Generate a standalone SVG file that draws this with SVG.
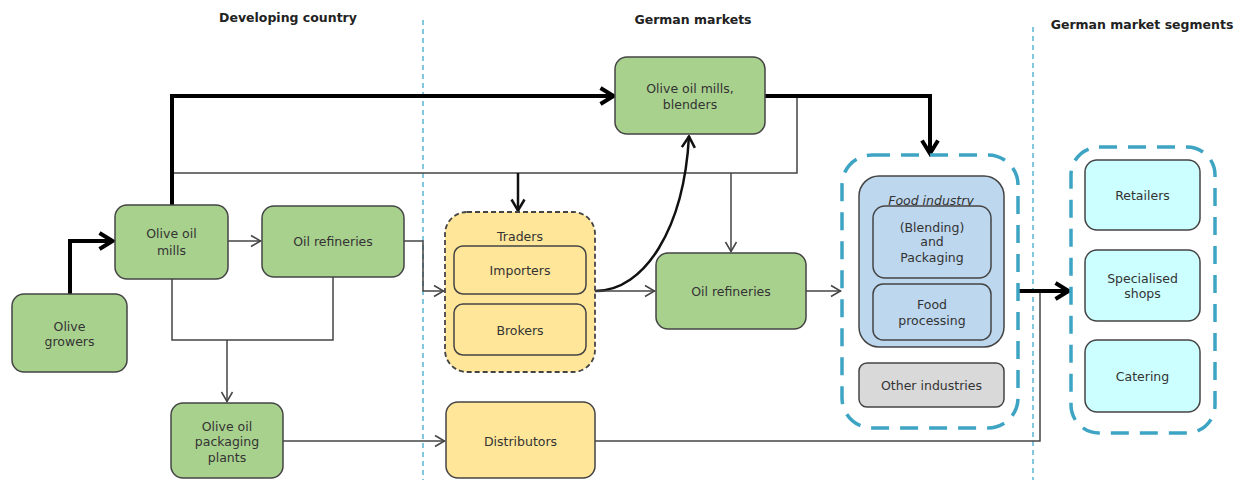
<svg xmlns="http://www.w3.org/2000/svg" width="1244" height="480" viewBox="0 0 1244 480">
<style>
text{font-family:"DejaVu Sans","Liberation Sans",sans-serif;font-size:12.5px;fill:#333;text-anchor:middle}
.hd{font-weight:bold;font-size:12.5px;fill:#222}
.g{fill:#a9d18e;stroke:#444;stroke-width:1.5}
.y{fill:#ffe699;stroke:#444;stroke-width:1.5}
.b{fill:#bdd7ee;stroke:#444;stroke-width:1.5}
.c{fill:#ccffff;stroke:#444;stroke-width:1.5}
.gr{fill:#d9d9d9;stroke:#444;stroke-width:1.5}
.cont{fill:none;stroke:#3ea4c4;stroke-width:3.5;stroke-dasharray:18 11}
.sep{stroke:#5bb5d5;stroke-width:1.5;stroke-dasharray:5 4}
.thin{fill:none;stroke:#444;stroke-width:1.5}
.med{fill:none;stroke:#111;stroke-width:2.5}
.thick{fill:none;stroke:#000;stroke-width:4}
</style>
<defs>
<marker id="aThin" viewBox="0 0 14 14" markerWidth="14" markerHeight="14" refX="13" refY="7" orient="auto" markerUnits="userSpaceOnUse"><path d="M3,1.5 L12.5,7 L3,12.5" fill="none" stroke="#444" stroke-width="1.5"/></marker>
<marker id="aMed" viewBox="0 0 16 16" markerWidth="16" markerHeight="16" refX="14.5" refY="8" orient="auto" markerUnits="userSpaceOnUse"><path d="M3,1.5 L14,8 L3,14.5" fill="none" stroke="#111" stroke-width="2.5"/></marker>
<marker id="aThick" viewBox="0 0 20 20" markerWidth="20" markerHeight="20" refX="17.5" refY="10" orient="auto" markerUnits="userSpaceOnUse"><path d="M4,2 L17,10 L4,18" fill="none" stroke="#000" stroke-width="4"/></marker>
</defs>
<g id="headers">
<text class="hd" x="288" y="22">Developing country</text>
<text class="hd" x="693" y="24">German markets</text>
<text class="hd" x="1142" y="29">German market segments</text>
</g>
<g id="separators">
<line class="sep" x1="423" y1="20" x2="423" y2="480"/>
<line class="sep" x1="1033" y1="27" x2="1033" y2="480"/>
</g>
<g id="connectors">
<path class="thick" d="M70,294 V241 H113" marker-end="url(#aThick)"/>
<path class="thin" d="M228,241 H261" marker-end="url(#aThin)"/>
<path class="thin" d="M172,279 V340 H333 V277"/>
<path class="thin" d="M227,340 V402" marker-end="url(#aThin)"/>
<path class="thin" d="M283,441 H445" marker-end="url(#aThin)"/>
<path class="thin" d="M404,241 H423 V291 H444" marker-end="url(#aThin)"/>
<path class="thin" d="M172,173 H797 V96"/>
<path class="thick" d="M172,205 V96 H614" marker-end="url(#aThick)"/>
<path class="med" d="M518,173 V211" marker-end="url(#aMed)"/>
<path class="thin" d="M731,173 V252" marker-end="url(#aThin)"/>
<path class="thick" d="M765,96 H930 V154" marker-end="url(#aThick)"/>
<path class="med" d="M595,291 C645,291 684,228 689,136" marker-end="url(#aMed)"/>
<path class="thin" d="M595,291 H655" marker-end="url(#aThin)"/>
<path class="thin" d="M806,291 H841" marker-end="url(#aThin)"/>
<path class="thin" d="M595,441 H1040 V291"/>
<path class="thick" d="M1018,291 H1069" marker-end="url(#aThick)"/>
</g>
<g id="olive-growers"><rect class="g" x="12" y="294" width="115" height="78" rx="12"/><text x="69.5" y="331">Olive</text><text x="69.5" y="346">growers</text></g>
<g id="olive-oil-mills"><rect class="g" x="115" y="205" width="113" height="74" rx="12"/><text x="171.5" y="238">Olive oil</text><text x="171.5" y="255">mills</text></g>
<g id="oil-refineries-dc"><rect class="g" x="262" y="206" width="142" height="71" rx="12"/><text x="333" y="246">Oil refineries</text></g>
<g id="packaging-plants"><rect class="g" x="171" y="403" width="112" height="75" rx="12"/><text x="227" y="431">Olive oil</text><text x="227" y="446">packaging</text><text x="227" y="462">plants</text></g>
<g id="mills-blenders"><rect class="g" x="615" y="57" width="150" height="77" rx="12"/><text x="690" y="93">Olive oil mills,</text><text x="690" y="109">blenders</text></g>
<g id="traders"><rect x="445" y="212" width="150" height="160" rx="22" fill="#ffe699" stroke="#444" stroke-width="1.8" stroke-dasharray="5 3"/><text x="520" y="241">Traders</text>
<rect class="y" x="454" y="246" width="132" height="48" rx="9"/><text x="520" y="275">Importers</text>
<rect class="y" x="454" y="304" width="132" height="51" rx="9"/><text x="520" y="335">Brokers</text></g>
<g id="distributors"><rect class="y" x="446" y="402" width="149" height="76" rx="12"/><text x="520.5" y="446">Distributors</text></g>
<g id="oil-refineries-de"><rect class="g" x="656" y="253" width="150" height="76" rx="12"/><text x="731" y="296">Oil refineries</text></g>
<g id="industry-segment"><rect class="cont" x="842" y="155" width="176" height="273" rx="30"/>
<rect class="b" x="859" y="176" width="145" height="171" rx="20"/><text x="931" y="205" font-style="italic" text-decoration="underline">Food industry</text>
<rect class="b" x="873" y="206" width="118" height="72" rx="12"/><text x="932" y="232">(Blending)</text><text x="932" y="246">and</text><text x="932" y="262">Packaging</text>
<rect class="b" x="873" y="284" width="118" height="56" rx="10"/><text x="932" y="309">Food</text><text x="932" y="325">processing</text>
<rect class="gr" x="859" y="363" width="145" height="44" rx="8"/><text x="931.5" y="390">Other industries</text></g>
<g id="market-segments"><rect class="cont" x="1071" y="147" width="144" height="286" rx="28"/>
<rect class="c" x="1085" y="160" width="115" height="70" rx="12"/><text x="1142.5" y="200">Retailers</text>
<rect class="c" x="1085" y="250" width="115" height="71" rx="12"/><text x="1142.5" y="283">Specialised</text><text x="1142.5" y="298">shops</text>
<rect class="c" x="1085" y="340" width="115" height="72" rx="12"/><text x="1142.5" y="381">Catering</text></g>
</svg>
